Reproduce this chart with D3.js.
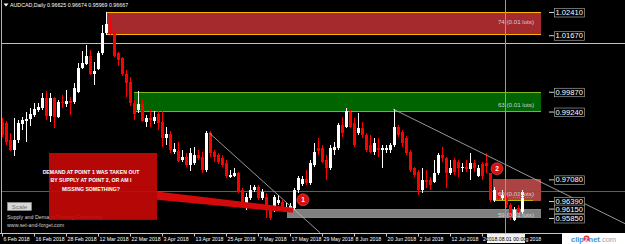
<!DOCTYPE html>
<html>
<head>
<meta charset="utf-8">
<script src="https://cdn.jsdelivr.net/npm/d3@7"></script>
<style>
  body { margin: 0; background: #000; overflow: hidden; }
  svg { display: block; font-family: "Liberation Sans", Arial, sans-serif; }
</style>
</head>
<body>
<svg id="chart" width="625" height="244"></svg>
<script>
// daily AUDCAD bars, 6 Feb 2018 .. early Aug 2018 (one per trading day)
const opens = [0.9891,0.9888,0.9834,0.9802,0.9834,0.9885,0.9894,0.9901,0.9913,0.9929,
  0.9936,0.9967,0.9910,0.9967,0.9907,0.9955,0.9948,0.9958,0.9955,0.9986,
  1.0063,1.0075,1.0101,1.0044,1.0060,1.0110,1.0174,1.0209,1.0174,1.0110,
  1.0095,1.0044,1.0018,0.9951,0.9929,0.9948,0.9891,0.9904,0.9894,0.9916,
  0.9891,0.9840,0.9853,0.9796,0.9799,0.9770,0.9780,0.9754,0.9761,0.9786,
  0.9780,0.9738,0.9856,0.9796,0.9786,0.9777,0.9761,0.9716,0.9719,0.9729,
  0.9675,0.9627,0.9649,0.9675,0.9684,0.9649,0.9653,0.9618,0.9611,0.9634,
  0.9637,0.9614,0.9618,0.9618,0.9675,0.9694,0.9710,0.9697,0.9754,0.9808,
  0.9808,0.9770,0.9745,0.9802,0.9808,0.9882,0.9875,0.9923,0.9888,0.9856,
  0.9872,0.9850,0.9818,0.9796,0.9808,0.9802,0.9802,0.9802,0.9818,0.9875,
  0.9859,0.9840,0.9796,0.9745,0.9732,0.9675,0.9707,0.9707,0.9700,0.9729,
  0.9786,0.9777,0.9729,0.9770,0.9764,0.9745,0.9748,0.9742,0.9761,0.9719,
  0.9757,0.9761,0.9729,0.9643,0.9659,0.9649,0.9653,0.9627,0.9579,0.9618,
  0.9605]
const highs = [0.9904,0.9894,0.9856,0.9904,0.9897,0.9907,0.9923,0.9936,0.9951,0.9951,
  0.9983,0.9990,0.9983,0.9971,0.9961,0.9977,0.9993,0.9971,1.0015,1.0079,
  1.0117,1.0136,1.0120,1.0082,1.0117,1.0200,1.0241,1.0222,1.0184,1.0114,
  1.0098,1.0056,1.0034,0.9961,0.9990,0.9961,0.9913,0.9929,0.9926,0.9926,
  0.9926,0.9875,0.9862,0.9824,0.9827,0.9802,0.9792,0.9808,0.9812,0.9802,
  0.9796,0.9862,0.9862,0.9802,0.9792,0.9786,0.9770,0.9738,0.9745,0.9732,
  0.9681,0.9665,0.9691,0.9691,0.9691,0.9678,0.9665,0.9627,0.9659,0.9659,
  0.9643,0.9634,0.9634,0.9681,0.9719,0.9719,0.9738,0.9770,0.9824,0.9840,
  0.9818,0.9786,0.9818,0.9827,0.9888,0.9907,0.9936,0.9929,0.9904,0.9920,
  0.9891,0.9856,0.9850,0.9840,0.9840,0.9818,0.9818,0.9824,0.9932,0.9882,
  0.9866,0.9847,0.9802,0.9748,0.9738,0.9745,0.9738,0.9716,0.9770,0.9792,
  0.9812,0.9780,0.9770,0.9777,0.9770,0.9761,0.9770,0.9792,0.9770,0.9754,
  0.9764,0.9792,0.9729,0.9684,0.9675,0.9675,0.9659,0.9634,0.9621,0.9627,
  0.9675]
const lows = [0.9843,0.9818,0.9799,0.9783,0.9824,0.9866,0.9827,0.9878,0.9907,0.9923,
  0.9929,0.9897,0.9891,0.9872,0.9904,0.9936,0.9939,0.9913,0.9948,0.9983,
  1.0060,1.0072,1.0040,1.0009,1.0056,1.0104,1.0168,1.0168,1.0098,1.0069,
  1.0037,0.9971,0.9942,0.9897,0.9920,0.9891,0.9875,0.9875,0.9885,0.9866,
  0.9812,0.9818,0.9792,0.9789,0.9764,0.9764,0.9748,0.9735,0.9754,0.9770,
  0.9729,0.9732,0.9780,0.9764,0.9757,0.9748,0.9713,0.9713,0.9716,0.9665,
  0.9627,0.9611,0.9643,0.9668,0.9643,0.9643,0.9586,0.9579,0.9605,0.9627,
  0.9611,0.9605,0.9611,0.9611,0.9665,0.9688,0.9691,0.9691,0.9748,0.9786,
  0.9761,0.9707,0.9738,0.9786,0.9802,0.9843,0.9872,0.9872,0.9812,0.9850,
  0.9840,0.9796,0.9792,0.9786,0.9780,0.9745,0.9792,0.9792,0.9812,0.9843,
  0.9812,0.9786,0.9732,0.9716,0.9659,0.9665,0.9681,0.9675,0.9697,0.9723,
  0.9764,0.9681,0.9723,0.9723,0.9716,0.9732,0.9732,0.9707,0.9732,0.9716,
  0.9707,0.9729,0.9637,0.9637,0.9643,0.9643,0.9618,0.9579,0.9576,0.9598,
  0.9598]
const closes = [0.9850,0.9827,0.9802,0.9834,0.9888,0.9897,0.9901,0.9916,0.9932,0.9939,
  0.9967,0.9910,0.9967,0.9907,0.9955,0.9951,0.9958,0.9951,0.9999,1.0063,
  1.0079,1.0101,1.0044,1.0053,1.0110,1.0174,1.0203,1.0174,1.0101,1.0088,
  1.0044,1.0015,0.9951,0.9916,0.9948,0.9894,0.9904,0.9897,0.9907,0.9888,
  0.9840,0.9853,0.9802,0.9805,0.9767,0.9780,0.9754,0.9792,0.9786,0.9777,
  0.9738,0.9856,0.9792,0.9780,0.9764,0.9754,0.9719,0.9723,0.9729,0.9668,
  0.9634,0.9653,0.9675,0.9684,0.9649,0.9668,0.9618,0.9586,0.9653,0.9643,
  0.9618,0.9621,0.9624,0.9675,0.9713,0.9710,0.9697,0.9761,0.9796,0.9799,
  0.9764,0.9745,0.9808,0.9812,0.9882,0.9856,0.9926,0.9875,0.9818,0.9872,
  0.9850,0.9802,0.9796,0.9824,0.9802,0.9808,0.9808,0.9818,0.9875,0.9850,
  0.9824,0.9792,0.9738,0.9723,0.9675,0.9707,0.9700,0.9691,0.9729,0.9786,
  0.9777,0.9729,0.9745,0.9732,0.9745,0.9748,0.9742,0.9761,0.9745,0.9745,
  0.9719,0.9751,0.9643,0.9675,0.9649,0.9659,0.9627,0.9586,0.9611,0.9605,
  0.9668]

// time axis: bar index of each label
const tickIndex = [0, 8, 16, 24, 32, 40, 48, 56, 64, 72, 80, 88, 96, 104, 112, 120, 128]
const tickLabels = ["6 Feb 2018", "16 Feb 2018", "28 Feb 2018", "12 Mar 2018", "22 Mar 2018",
  "3 Apr 2018", "13 Apr 2018", "25 Apr 2018", "7 May 2018", "17 May 2018", "29 May 2018",
  "8 Jun 2018", "20 Jun 2018", "2 Jul 2018", "12 Jul 2018", "24 Jul 2018", "3 Aug 2018"]

// supply / demand rectangles
const zoneTop = [1.0241, 0.9987, 0.9708, 0.9615]
const zoneBottom = [1.0167, 0.9924, 0.9639, 0.9585]
const zoneStart = [26, 33, 122.75, 71.25]
const zoneEnd = 134.75
const zoneText = ["74 (0.01 lots)", "63 (0.01 lots)", "69 (0.01 lots)", "59 (0.01 lots)"]

const priceLabels = [1.0241, 1.0167, 0.9987, 0.9924, 0.9708, 0.9639, 0.9615, 0.9585]
const hLinePrice = 1.0142
const bidPrice = 0.96667
const crossIndex = 126

// trend lines [index, price]
const trendA = [[51.8, 0.9856], [79.5, 0.9538]]
const trendB = [[97.75, 0.9932], [155.75, 0.9567]]

const noteLines = ["DEMAND AT POINT 1 WAS TAKEN OUT", "BY SUPPLY AT POINT 2, OR AM I", "MISSING SOMETHING?"]

// ---- drawing ----
const svg = d3.select("#chart")
const x = d3.scaleLinear().domain([-0.5, 137.5]).range([0, 552])
const y = d3.scaleLinear().domain([0.95372, 1.02792]).range([233, 0])

const zoneFill = ["#a52a2e", "#006400", "rgba(230,90,90,0.75)", "#808080"]
const zoneEdge = ["#ffb400", "#7cb518", "#b5b800", "#32c832"]
const zoneTextDy = [-11, -5, -5, -1]

svg.append("rect").attr("width", 625).attr("height", 244).attr("fill", "#000")

const zones = svg.append("g")
zoneTop.forEach((t, k) => {
  const x0 = Math.round(x(zoneStart[k])), x1 = Math.round(x(zoneEnd))
  const y0 = Math.round(y(t)), y1 = Math.round(y(zoneBottom[k]))
  zones.append("rect").attr("x", x0).attr("y", y0).attr("width", x1 - x0).attr("height", y1 - y0)
    .attr("fill", zoneFill[k])
  if (k != 2) {
    zones.append("line").attr("x1", x0).attr("x2", x1).attr("y1", y0 + 0.5).attr("y2", y0 + 0.5)
      .attr("stroke", zoneEdge[k])
  }
  zones.append("line").attr("x1", x0).attr("x2", k == 2 ? x1 - 8 : x1).attr("y1", y1 - 0.5).attr("y2", y1 - 0.5)
    .attr("stroke", zoneEdge[k])
})

// bid line and horizontal line
svg.append("line").attr("x1", 2).attr("x2", 625).attr("y1", Math.round(y(hLinePrice)) + 0.5).attr("y2", Math.round(y(hLinePrice)) + 0.5)
  .attr("stroke", "#c0c0c0")
svg.append("line").attr("x1", 2).attr("x2", 625).attr("y1", Math.round(y(bidPrice)) - 0.5).attr("y2", Math.round(y(bidPrice)) - 0.5)
  .attr("stroke", "#56606c")

// candles
const bars = opens.map((o, i) => ({ i: i, o: o, h: highs[i], l: lows[i], c: closes[i] }))
const candle = svg.append("g").selectAll("g").data(bars).join("g")
candle.append("line")
  .attr("x1", d => Math.round(x(d.i)) + 0.5).attr("x2", d => Math.round(x(d.i)) + 0.5)
  .attr("y1", d => Math.round(y(d.h))).attr("y2", d => Math.round(y(d.l)))
  .attr("stroke", d => d.c >= d.o ? "#ffffff" : "#ff0000")
candle.append("rect")
  .attr("x", d => Math.round(x(d.i)) - 1)
  .attr("width", 3)
  .attr("y", d => Math.round(y(Math.max(d.o, d.c))))
  .attr("height", d => Math.max(1, Math.round(y(Math.min(d.o, d.c))) - Math.round(y(Math.max(d.o, d.c)))))
  .attr("fill", d => d.c >= d.o ? "#ffffff" : "#ff0000")

// zone descriptions
zoneText.forEach((t, k) => {
  svg.append("text").attr("x", x(zoneEnd) - 7).attr("y", y(zoneBottom[k]) + zoneTextDy[k])
    .attr("text-anchor", "end").attr("font-size", 6.2).attr("fill", "#d0d0d0").text(t)
})
svg.append("line").attr("x1", 513).attr("x2", 533).attr("y1", y(0.9639) - 5.5).attr("y2", y(0.9639) - 5.5)
  .attr("stroke", "#3fbf3f").attr("stroke-dasharray", "1,1")
svg.append("line").attr("x1", 513).attr("x2", 533).attr("y1", y(0.9639) - 3.5).attr("y2", y(0.9639) - 3.5)
  .attr("stroke", "#3fbf3f").attr("stroke-dasharray", "1,1")

// trend lines
const line = d3.line().x(d => x(d[0])).y(d => y(d[1]))
svg.append("path").datum(trendA).attr("d", line).attr("stroke", "#bdbdbd").attr("stroke-width", 0.8).attr("fill", "none")
svg.append("path").datum(trendB).attr("d", line).attr("stroke", "#bdbdbd").attr("stroke-width", 0.8).attr("fill", "none")

// crosshair vertical
svg.append("line").attr("x1", Math.round(x(crossIndex)) - 0.5).attr("x2", Math.round(x(crossIndex)) - 0.5)
  .attr("y1", 0).attr("y2", 233).attr("stroke", "#9a9a9a")

// left border
svg.append("line").attr("x1", 1.5).attr("x2", 1.5).attr("y1", 0).attr("y2", 233).attr("stroke", "#b4b4b4")

// footer texts
svg.append("text").attr("x", 7).attr("y", 219).attr("font-size", 5.3).attr("fill", "#d0d0d0")
  .text("Supply and Demand Trading Community")
svg.append("text").attr("x", 7).attr("y", 227).attr("font-size", 5.3).attr("fill", "#d0d0d0")
  .text("www.set-and-forget.com")

// callout
const boxL = x(11.75), boxR = x(38.75), boxT = y(0.9792), boxB = y(0.9579)
svg.append("rect").attr("x", boxL).attr("y", boxT).attr("width", boxR - boxL).attr("height", boxB - boxT)
  .attr("fill", "#c40808").attr("fill-opacity", 0.93)
svg.append("polygon")
  .attr("points", [[38.75, 0.9669], [72.75, 0.9618], [72.75, 0.9602], [38.75, 0.9643]].map(p => [x(p[0]), y(p[1])].join(",")).join(" "))
  .attr("fill", "#d40a0a")
noteLines.forEach((t, k) => {
  svg.append("text").attr("x", x(22.25)).attr("y", y(0.9725) + k * 8.3)
    .attr("text-anchor", "middle").attr("font-size", 5.2).attr("font-weight", "bold").attr("fill", "#fff").text(t)
})

// numbered points
const pts = [[75.25, 0.9643, "1"], [123.75, 0.9742, "2"]]
pts.forEach(p => {
  svg.append("circle").attr("cx", x(p[0])).attr("cy", y(p[1])).attr("r", 6).attr("fill", "#d61010").attr("stroke", "#ff6060").attr("stroke-width", 0.5)
  svg.append("text").attr("x", x(p[0])).attr("y", y(p[1]) + 2.2).attr("text-anchor", "middle")
    .attr("font-size", 6.5).attr("font-weight", "bold").attr("fill", "#fff").text(p[2])
})

// Scale button
svg.append("rect").attr("x", 7.5).attr("y", 202.5).attr("width", 24).attr("height", 8).attr("fill", "#d8d8d8").attr("stroke", "#a0a0a0").attr("stroke-width", 0.5)
svg.append("text").attr("x", 19.5).attr("y", 209).attr("text-anchor", "middle").attr("font-size", 6.2).attr("fill", "#707070").text("Scale")

// time axis; the crosshair box hides part of the two last labels
const cx = Math.round(x(crossIndex))
const defs = svg.append("defs")
const clip = defs.append("clipPath").attr("id", "outsideBox")
clip.append("rect").attr("x", 0).attr("y", 0).attr("width", cx - 19).attr("height", 244)
clip.append("rect").attr("x", cx + 19).attr("y", 0).attr("width", 625 - cx - 19).attr("height", 244)

const xAxis = d3.axisBottom(x).tickValues(tickIndex).tickFormat((d, i) => tickLabels[i]).tickSize(3).tickSizeOuter(0)
const gx = svg.append("g").attr("transform", "translate(0,233.5)").call(xAxis)
gx.select(".domain").remove()
gx.selectAll("line").attr("stroke", "#c8c8c8")
gx.selectAll("text").attr("text-anchor", "start").attr("x", 1).attr("y", 3.5).attr("fill", "#fff")
  .attr("font-size", 5.2).attr("font-family", "Liberation Sans, Arial, sans-serif")
gx.selectAll(".tick").filter(d => Math.abs(x(d) - cx) < 30).select("text")
  .attr("clip-path", "url(#outsideBox)").attr("transform", d => "translate(0,0)")
gx.selectAll(".tick").filter(d => Math.abs(x(d) - cx) < 30).each(function (d) {
  // clip in svg coordinates: move the clipped text into the root frame
  const t = d3.select(this).select("text")
  const node = t.node()
  const tx = x(d)
  svg.append("text").attr("x", tx + 1).attr("y", 233.5 + 3.5).attr("dy", "0.71em")
    .attr("font-size", 5.2).attr("fill", "#fff").attr("clip-path", "url(#outsideBox)").text(node.textContent)
  t.remove()
})
svg.append("line").attr("x1", 0).attr("x2", 625).attr("y1", 233.5).attr("y2", 233.5).attr("stroke", "#c8c8c8")

// crosshair time label
svg.append("rect").attr("x", cx - 19).attr("y", 234).attr("width", 38).attr("height", 9).attr("fill", "#f2f2f2")
svg.append("text").attr("x", cx).attr("y", 241).attr("text-anchor", "middle").attr("font-size", 5.2).attr("fill", "#000")
  .text("2018.08.01 00:00")

// price labels
const yAxis = d3.axisRight(y).tickValues(priceLabels).tickFormat(d3.format(".5f")).tickSize(5)
const gy = svg.append("g").attr("transform", "translate(549,0)").call(yAxis)
gy.select(".domain").remove()
gy.selectAll(".tick line").attr("stroke", "#d0d0d0")
gy.selectAll(".tick").insert("rect", "text").attr("x", 5.5).attr("y", -4).attr("width", 30).attr("height", 8.5)
  .attr("fill", "#000").attr("stroke", "#b8b8b8").attr("stroke-width", 0.6)
gy.selectAll("text").attr("x", 6.5).attr("dy", "0.34em").attr("fill", "#fff").attr("font-size", 7.6)
  .attr("font-family", "Liberation Sans, Arial, sans-serif")

// title
svg.append("path").attr("d", "M3.5,3.5 L8.5,3.5 L6,6.5 Z").attr("fill", "#fff")
svg.append("text").attr("x", 10).attr("y", 6.8).attr("font-size", 5.3).attr("fill", "#fff")
  .text("AUDCAD,Daily  0.96625 0.96674 0.95969 0.96667")

// clip2net stamp
svg.append("rect").attr("x", 562).attr("y", 233).attr("width", 63).attr("height", 11).attr("fill", "#fff")
svg.append("circle").attr("cx", 586.5).attr("cy", 238.5).attr("r", 3).attr("fill", "#e03030")
const logo = svg.append("text").attr("x", 571).attr("y", 241.5).attr("font-size", 7.5).attr("font-weight", "bold")
logo.append("tspan").attr("fill", "#3d8fd6").text("clip")
logo.append("tspan").attr("fill", "#fff").attr("font-size", 5.5).attr("dx", 0.8).attr("dy", -0.8).text("2")
logo.append("tspan").attr("fill", "#3d8fd6").attr("dx", 0.8).attr("dy", 0.8).text("net")
logo.append("tspan").attr("fill", "#9aa4b0").attr("font-weight", "normal").text(".com")
</script>
</body>
</html>
